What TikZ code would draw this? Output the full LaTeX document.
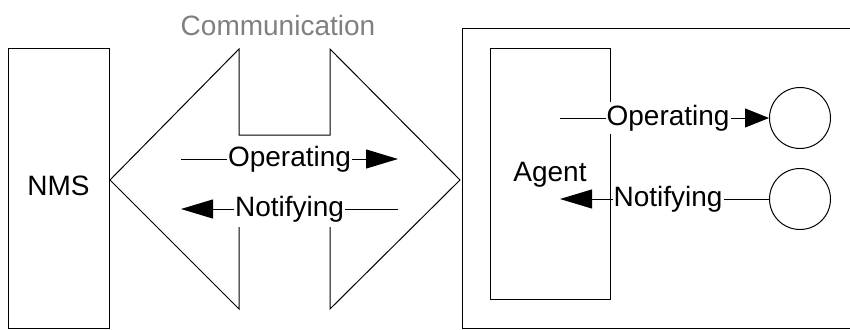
\documentclass[tikz,border=0pt]{standalone}
\usepackage{fontspec}
\setmainfont{Liberation Sans}
\usetikzlibrary{arrows.meta}

\tikzset{
	txt/.style={font=\fontsize{28}{30}\selectfont, text height=20pt, text depth=6pt},
	lbl/.style={txt, fill=white, inner xsep=1pt, inner ysep=3pt},
	box/.style={txt, draw, rectangle, inner sep=0pt},
	port/.style={draw, circle, minimum size=61pt, inner sep=0pt},
	headarr/.style={-{Triangle[length=#1,width=19pt]}},
	headarr/.default=32pt
}

\begin{document}
\begin{tikzpicture}[x=1pt,y=-1pt,line width=1pt]
\clip (0,0) rectangle (850,329);

%% NMS
\node[box, minimum width=101pt, minimum height=279pt] (nms) at (58.5,188.5) {NMS};

%% double arrow
\coordinate (lt) at (110,180);
\coordinate (rt) at (460,180);
\draw (lt)--(239,49)--(239,135)--(330,135)--(330,49)--(rt)--(330,309)--(330,227);
\draw (239,227)--(239,309)--(lt);
\node[lbl, text=gray, fill=none] (comm) at (278,28.5) {Communication};

%operating
\coordinate (o1) at (181,159);
\coordinate (o2) at (398,159);
\draw [headarr] (o1)--(o2) node[lbl, midway]{Operating};

%notifying
\coordinate (n1) at (398,209);
\coordinate (n2) at (181,209);
\draw [headarr] (n1)--(n2) node[lbl, midway]{Notifying};

%% agent side
\draw (462,29) rectangle (900,328);
\node[box, minimum width=120pt, minimum height=250pt] (agent) at (550,174) {Agent};

\node[port] (op) at (800,118) {};
\node[port] (nt) at (800,199) {};

\coordinate (ao) at (560,118);
\draw [headarr=24pt] (ao)--(op.west) node[lbl, pos=0.517]{Operating};

\coordinate (an) at (560,199);
\draw [headarr] (nt.west)--(an) node[lbl, pos=0.483]{Notifying};

\end{tikzpicture}
\end{document}
